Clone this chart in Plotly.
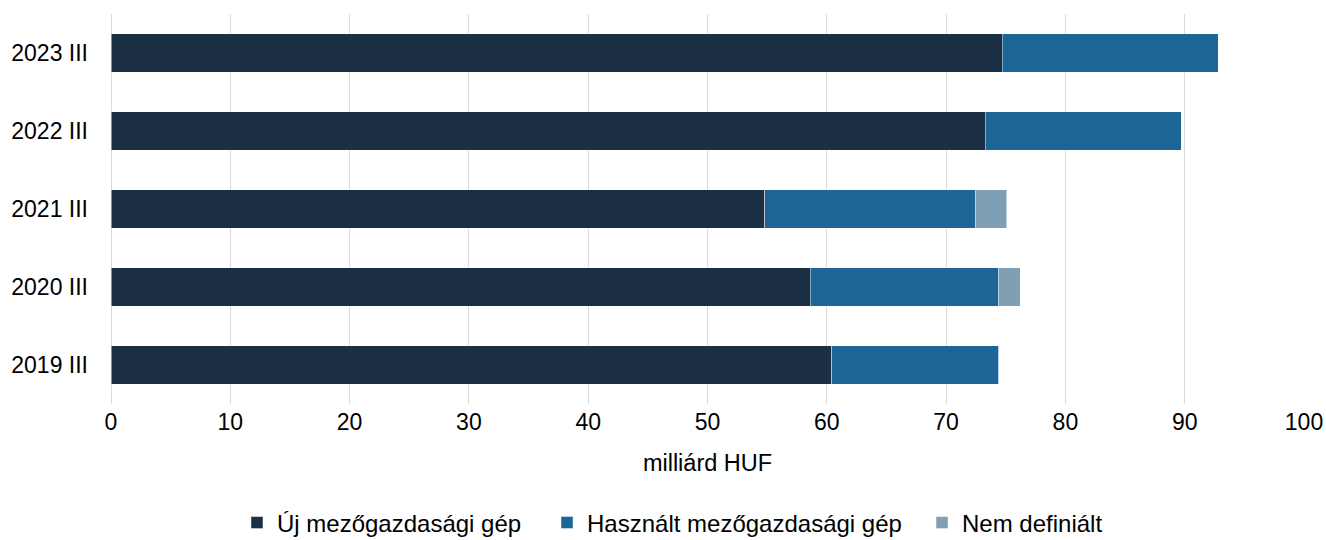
import plotly.graph_objects as go

categories = ["2019 III", "2020 III", "2021 III", "2022 III", "2023 III"]
uj_gep = [60.4, 58.6, 54.8, 73.3, 74.7]
hasznalt_gep = [14.0, 15.8, 17.7, 16.4, 18.1]
nem_definialt = [0.0, 1.8, 2.6, 0.0, 0.0]

series_names = ["Új mezőgazdasági gép", "Használt mezőgazdasági gép", "Nem definiált"]
series_values = [uj_gep, hasznalt_gep, nem_definialt]
colors = ["#1b3044", "#1d6596", "#7fa0b4"]
legend_ids = ["legend", "legend2", "legend3"]
legend_x = [0.1056, 0.3655, 0.6798]

FONT = "Liberation Sans, Arial, sans-serif"

fig = go.Figure()
for name, vals, col, lg in zip(series_names, series_values, colors, legend_ids):
    fig.add_trace(go.Bar(
        y=categories, x=vals, name=name, orientation="h", legend=lg,
        marker=dict(color=col, line=dict(color="rgba(255,255,255,0.45)", width=1)),
    ))

legend_common = dict(orientation="h", xanchor="left", y=-0.305, yanchor="middle",
                     font=dict(size=24, color="#000000"), bgcolor="rgba(0,0,0,0)")

fig.update_layout(
    barmode="stack",
    bargap=0.51,
    width=1326, height=540,
    margin=dict(l=111, r=22, t=14, b=136, autoexpand=False),
    paper_bgcolor="white", plot_bgcolor="white",
    font=dict(family=FONT, size=23, color="#000000"),
    showlegend=True,
    legend=dict(x=legend_x[0], **legend_common),
    legend2=dict(x=legend_x[1], **legend_common),
    legend3=dict(x=legend_x[2], **legend_common),
    xaxis=dict(range=[0, 100], dtick=10, showgrid=True, gridcolor="#d9d9d9", gridwidth=1,
               zeroline=True, zerolinecolor="#d9d9d9", zerolinewidth=1,
               title=dict(text="milliárd HUF", font=dict(size=23.5), standoff=20),
               ticks="", tickfont=dict(size=23), ticklabelstandoff=2),
    yaxis=dict(showgrid=False, ticks="", ticklabelstandoff=22, tickfont=dict(size=23)),
)

fig.write_html("out.html", config={"displayModeBar": False},
               post_script="document.body.style.margin='0';document.body.style.overflow='hidden';")
